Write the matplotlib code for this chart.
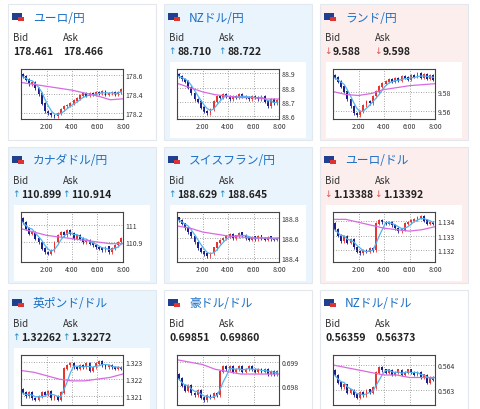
import matplotlib
matplotlib.use("Agg")
import matplotlib.pyplot as plt
import numpy as np
from matplotlib.patches import Rectangle

plt.rcParams['font.family'] = ['Noto Sans CJK JP', 'DejaVu Sans']

titles = ["ユーロ/円", "NZドル/円", "ランド/円", "カナダドル/円", "スイスフラン/円", "ユーロ/ドル",
          "英ポンド/ドル", "豪ドル/ドル", "NZドル/ドル"]
bids = ["178.461", "88.710", "9.588", "110.899", "188.629", "1.13388", "1.32262", "0.69851", "0.56359"]
asks = ["178.466", "88.722", "9.598", "110.914", "188.645", "1.13392", "1.32272", "0.69860", "0.56373"]
arrows = ["", "up", "down", "up", "up", "down", "up", "", ""]
opens0 = [178.60, 88.89, 9.596, 111.04, 188.80, 1.1338, 1.3214, 0.6985, 0.5638]
closes = [
    [178.58,178.55,178.50,178.52,178.46,178.40,178.30,178.22,178.20,178.18,178.17,178.20,178.24,178.27,178.28,178.30,178.33,178.35,178.38,178.40,178.38,178.40,178.39,178.42,178.41,178.43,178.39,178.41,178.42,178.40,178.42,178.45],
    [88.88,88.86,88.84,88.80,88.76,88.72,88.70,88.66,88.63,88.62,88.65,88.70,88.74,88.73,88.75,88.74,88.72,88.74,88.73,88.75,88.74,88.73,88.72,88.74,88.73,88.72,88.74,88.70,88.67,88.72,88.69,88.71],
    [9.594,9.590,9.585,9.580,9.572,9.565,9.558,9.556,9.560,9.566,9.570,9.568,9.575,9.580,9.585,9.588,9.590,9.592,9.590,9.593,9.591,9.595,9.594,9.592,9.596,9.595,9.598,9.594,9.597,9.593,9.596,9.592],
    [111.02,110.98,110.95,110.96,110.92,110.90,110.86,110.84,110.83,110.85,110.90,110.94,110.96,110.94,110.97,110.95,110.92,110.94,110.92,110.90,110.91,110.89,110.88,110.87,110.86,110.85,110.87,110.84,110.86,110.88,110.90,110.92],
    [188.78,188.74,188.70,188.66,188.62,188.56,188.50,188.46,188.44,188.42,188.45,188.50,188.55,188.58,188.60,188.62,188.64,188.60,188.62,188.65,188.63,188.60,188.58,188.61,188.59,188.62,188.60,188.58,188.61,188.59,188.58,188.60],
    [1.1334,1.1330,1.1326,1.1329,1.1325,1.1327,1.1322,1.1319,1.1318,1.1320,1.1319,1.1321,1.1320,1.1338,1.1340,1.1339,1.1338,1.1339,1.1337,1.1335,1.1333,1.1334,1.1338,1.1339,1.1340,1.1341,1.1342,1.1343,1.1340,1.1338,1.1339,1.1338],
    [1.3212,1.3210,1.3212,1.3209,1.3208,1.3210,1.3212,1.3211,1.3213,1.3209,1.3210,1.3208,1.3212,1.3226,1.3228,1.3229,1.3227,1.3226,1.3228,1.3227,1.3229,1.3225,1.3227,1.3229,1.3230,1.3228,1.3227,1.3228,1.3227,1.3226,1.3227,1.3226],
    [.6983,.6980,.6978,.6980,.6977,.6976,.6978,.6975,.6974,.6976,.6975,.6977,.6976,.6986,.6988,.6987,.6988,.6986,.6987,.6988,.6986,.6987,.6988,.6987,.6986,.6987,.6986,.6987,.6985,.6986,.6985,.6986],
    [.5636,.5633,.5631,.5632,.5629,.5630,.5628,.5627,.5629,.5628,.5630,.5629,.5631,.5637,.5639,.5638,.5637,.5638,.5636,.5637,.5638,.5636,.5637,.5638,.5637,.5636,.5637,.5635,.5636,.5633,.5635,.5634],
]
slow_ma = [
    [178.52,178.50,178.48,178.46,178.44,178.41,178.38,178.34,178.35],
    [88.83,88.80,88.77,88.75,88.74,88.73,88.73,88.72,88.72],
    [9.580,9.577,9.576,9.578,9.582,9.584,9.586,9.587,9.588],
    [110.98,110.96,110.94,110.93,110.92,110.91,110.90,110.89,110.89],
    [188.72,188.70,188.66,188.64,188.62,188.61,188.60,188.60,188.60],
    [1.1341,1.1341,1.1339,1.1337,1.1335,1.1334,1.1333,1.1334,1.1336],
    [1.3225,1.3224,1.3222,1.3220,1.3219,1.3219,1.3220,1.3221,1.3223],
    [.6991,.6990,.6989,.6987,.6986,.6985,.6985,.6985,.6985],
    [.5640,.5639,.5638,.5637,.5636,.5636,.5635,.5635,.5635],
]
yticks = [[178.2,178.4,178.6],[88.6,88.7,88.8,88.9],[9.56,9.58],[110.9,111.0],[188.4,188.6,188.8],
          [1.132,1.133,1.134],[1.321,1.322,1.323],[0.698,0.699],[0.563,0.564]]
ytl = [["178.2","178.4","178.6"],["88.6","88.7","88.8","88.9"],["9.56","9.58"],["110.9","111"],
       ["188.4","188.6","188.8"],["1.132","1.133","1.134"],["1.321","1.322","1.323"],["0.698","0.699"],["0.563","0.564"]]
ylims = [(178.14,178.66),(88.58,88.93),(9.552,9.603),(110.78,111.08),(188.36,188.86),
         (1.1312,1.1346),(1.3205,1.3234),(0.6972,0.6993),(0.5624,0.5644)]
bgs = ["#ffffff","#eaf4fc","#fdeeee","#eaf4fc","#eaf4fc","#fdeeee","#eaf4fc","#ffffff","#ffffff"]
xtick_pos = [8, 16, 24, 32]
xtick_lab = ["2:00", "4:00", "6:00", "8:00"]

W, H = 480, 410
fig = plt.figure(figsize=(4.8, 4.1), dpi=100)
fig.patch.set_facecolor("white")
bg = fig.add_axes([0, 0, 1, 1]); bg.set_xlim(0, W); bg.set_ylim(H, 0); bg.axis("off")

colx = [8, 164, 320]
rowy = [5, 148, 291]
for i in range(9):
    px, py = colx[i % 3], rowy[i // 3]
    bg.add_patch(Rectangle((px, py), 148, 136, facecolor=bgs[i], edgecolor="#e3e8ee", lw=0.8))
    bg.add_patch(Rectangle((px+4, py+9), 10, 7, facecolor="#1f3f8f", edgecolor="none"))
    bg.add_patch(Rectangle((px+10, py+13), 6, 4, facecolor="#d33", edgecolor="none"))
    bg.text(px+25, py+13, titles[i], color="#1a6fc4", fontsize=8.5, va="center")
    bg.text(px+5, py+33, "Bid", fontsize=7, va="center", color="#333")
    bg.text(px+55, py+33, "Ask", fontsize=7, va="center", color="#333")
    a = arrows[i]
    sym = {"up": "↑", "down": "↓"}.get(a, "")
    ac = {"up": "#1e88c8", "down": "#e05050"}.get(a, "k")
    off = 8 if sym else 0
    if sym:
        bg.text(px+4, py+47, sym, fontsize=6.5, va="center", color=ac, family="DejaVu Sans")
        bg.text(px+54, py+47, sym, fontsize=6.5, va="center", color=ac, family="DejaVu Sans")
    bg.text(px+5+off, py+47, bids[i], fontsize=7.5, va="center", fontweight="bold", color="#222")
    bg.text(px+55+off, py+47, asks[i], fontsize=7.5, va="center", fontweight="bold", color="#222")
    bg.add_patch(Rectangle((px+6, py+58), 136, 76, facecolor="white", edgecolor="none"))

    ax = fig.add_axes([(px+13)/W, 1-(py+115)/H, 102/W, 50/H])
    c = np.array(closes[i]); o = np.concatenate([[opens0[i]], c[:-1]])
    x = np.arange(len(c)) + 0.5
    rng = ylims[i][1]-ylims[i][0]
    hi = np.maximum(o, c) + rng*0.03; lo = np.minimum(o, c) - rng*0.03
    cols = np.where(c >= o, "#e8332f", "#1c1c8c")
    ax.vlines(x, lo, hi, colors=cols, lw=0.6)
    ax.bar(x, np.abs(c-o) + rng*0.01, bottom=np.minimum(o, c), width=0.6, color=cols)
    fast = np.array([c[max(0, k-3):k+1].mean() for k in range(len(c))])
    ax.plot(x, fast, color="#4fb3f0", lw=0.9)
    ax.plot(np.linspace(0, 32, len(slow_ma[i])), slow_ma[i], color="#d86ae0", lw=0.9)
    ax.set_xlim(0, 32); ax.set_ylim(*ylims[i])
    ax.set_xticks(xtick_pos)
    if i < 6:
        ax.set_xticklabels(xtick_lab)
    else:
        ax.set_xticklabels([])
    ax.set_yticks(yticks[i]); ax.set_yticklabels(ytl[i])
    ax.yaxis.tick_right()
    ax.tick_params(labelsize=5, length=0, pad=2, colors="#333")
    ax.grid(True, ls=(0, (1, 2)), color="#888", lw=0.6)
    for s in ax.spines.values():
        s.set_color("#444"); s.set_linewidth(0.8)

fig.savefig("out.png", dpi=100)
